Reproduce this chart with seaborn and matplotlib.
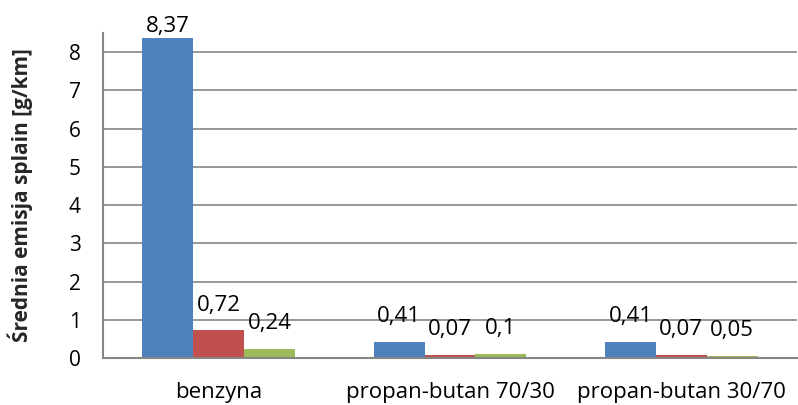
import matplotlib
matplotlib.use("Agg")
import matplotlib.pyplot as plt
import seaborn as sns
import pandas as pd

# Average emissions per fuel type
fuels = ["benzyna", "propan-butan 70/30", "propan-butan 30/70"]
series = ["CO", "HC", "NOx"]
co = [8.37, 0.41, 0.41]
hc = [0.72, 0.07, 0.07]
nox = [0.24, 0.10, 0.05]
yticks = [0, 1, 2, 3, 4, 5, 6, 7, 8]
palette = ["#4F81BD", "#C0504D", "#9BBB59"]

df = pd.DataFrame({
    "paliwo": fuels * 3,
    "skladnik": [s for s in series for _ in fuels],
    "emisja": co + hc + nox,
})

sns.set_theme(style="white")
plt.rcParams["font.family"] = ["Open Sans", "DejaVu Sans"]

fig = plt.figure(figsize=(7.98, 4.05), dpi=100)
ax = fig.add_axes([103 / 798, 1 - 358 / 405, 694 / 798, 325 / 405])

sns.barplot(data=df, x="paliwo", y="emisja", hue="skladnik", order=fuels,
            hue_order=series, palette=palette, width=0.66, saturation=1,
            legend=False, ax=ax, edgecolor="none")

ax.set_ylim(0, 8.5)
ax.set_yticks(yticks)
ax.set_yticklabels([str(t) for t in yticks])
ax.yaxis.grid(True, color="#868686", linewidth=1.2)
ax.set_axisbelow(True)
for side in ("top", "right"):
    ax.spines[side].set_visible(False)
for side in ("left", "bottom"):
    ax.spines[side].set_color("#868686")
    ax.spines[side].set_linewidth(1.5)
ax.tick_params(axis="y", length=0, pad=16, labelsize=15, colors="black")
ax.tick_params(axis="x", length=0, pad=17, labelsize=16, colors="black")
ax.set_xlabel("")
ax.set_ylabel("Średnia emisja splain [g/km]", fontsize=15, fontweight="bold")
ax.yaxis.set_label_coords(-0.101, 0.5)

# value labels above each bar, kept inside the plot area
for cont in ax.containers:
    for bar in cont:
        h = bar.get_height()
        label = f"{h:g}".replace(".", ",")
        ax.text(bar.get_x() + bar.get_width() / 2, min(h + 0.52, 8.52), label,
                ha="center", va="baseline", fontsize=16, color="black",
                clip_on=False)

fig.savefig("out.png", dpi=100)
